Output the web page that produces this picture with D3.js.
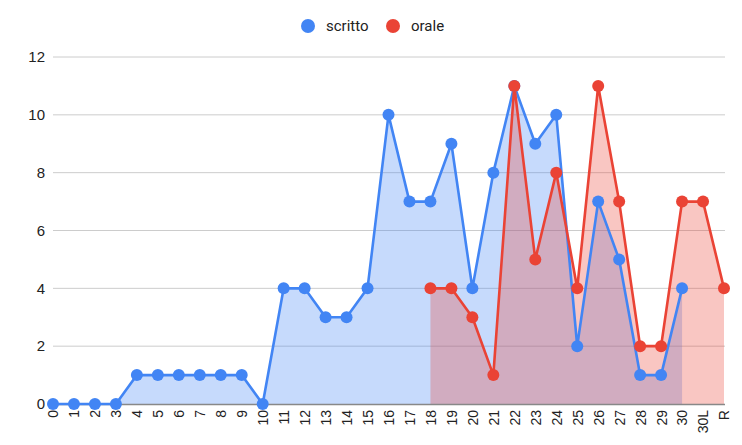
<!DOCTYPE html>
<html>
<head>
<meta charset="utf-8">
<script src="https://cdn.jsdelivr.net/npm/d3@7"></script>
<style>
  body { margin: 0; background: #fff; }
  svg { font-family: Roboto, Arial, sans-serif; }
</style>
</head>
<body>
<svg id="chart" width="742" height="445"></svg>
<script>
var categories = ["0","1","2","3","4","5","6","7","8","9","10","11","12","13","14","15",
  "16","17","18","19","20","21","22","23","24","25","26","27","28","29","30","30L","R"];
var scritto = [0,0,0,0,1,1,1,1,1,1,0,4,4,3,3,4,10,7,7,9,4,8,11,9,10,2,7,5,1,1,4,null,null];
var orale = [null,null,null,null,null,null,null,null,null,null,null,null,null,null,null,null,
  null,null,4,4,3,1,11,5,8,4,11,7,2,2,7,7,4];
var yTicks = [0,2,4,6,8,10,12];
var seriesNames = ["scritto","orale"];
var seriesColors = ["#4285f4","#ea4335"];

function drawChart() {
  var svg = d3.select("#chart");

  const left = 53, right = 724, top = 57, bottom = 404;
  const axisFont = "'Liberation Sans', Arial, sans-serif";

  const xScale = d3.scalePoint()
    .domain(categories)
    .range([left, right]);

  const yScale = d3.scaleLinear()
    .domain([0, 12])
    .range([bottom, top]);

  // gridlines
  svg.append("g")
    .selectAll("line")
    .data(yTicks.filter(d => d > 0))
    .enter().append("line")
    .attr("x1", left)
    .attr("x2", right + 1)
    .attr("y1", d => yScale(d))
    .attr("y2", d => yScale(d))
    .attr("stroke", "#cccccc")
    .attr("stroke-width", 1);

  // y axis labels
  var yAxis = d3.axisLeft(yScale).tickValues(yTicks).tickSize(0).tickPadding(8);
  var gy = svg.append("g").attr("transform", "translate(" + left + ",0)").call(yAxis);
  gy.select(".domain").remove();
  gy.selectAll("text").attr("font-size", 15).attr("fill", "#222").attr("font-family", axisFont);

  var series = [scritto, orale];

  var area = d3.area()
    .defined(d => d.v !== null)
    .x(d => xScale(d.c))
    .y0(bottom)
    .y1(d => yScale(d.v));

  var line = d3.line()
    .defined(d => d.v !== null)
    .x(d => xScale(d.c))
    .y(d => yScale(d.v));

  var data = series.map(s => s.map((v, i) => ({ c: categories[i], v: v })));

  // areas
  data.forEach(function(d, i) {
    svg.append("path")
      .attr("d", area(d))
      .attr("fill", seriesColors[i])
      .attr("fill-opacity", 0.3);
  });

  // baseline
  svg.append("line")
    .attr("x1", left).attr("x2", right + 1)
    .attr("y1", bottom + 0.5).attr("y2", bottom + 0.5)
    .attr("stroke", "#888").attr("stroke-width", 1.5);

  // lines
  data.forEach(function(d, i) {
    svg.append("path")
      .attr("d", line(d))
      .attr("fill", "none")
      .attr("stroke", seriesColors[i])
      .attr("stroke-width", 2.6)
      .attr("stroke-linejoin", "round");
  });

  // points
  data.forEach(function(d, i) {
    svg.append("g")
      .selectAll("circle")
      .data(d.filter(p => p.v !== null))
      .enter().append("circle")
      .attr("cx", p => xScale(p.c))
      .attr("cy", p => yScale(p.v))
      .attr("r", 6)
      .attr("fill", seriesColors[i]);
  });

  // x axis labels (rotated)
  var xAxis = d3.axisBottom(xScale).tickSize(0).tickPadding(0);
  var gx = svg.append("g").attr("transform", "translate(0," + (bottom + 6) + ")").call(xAxis);
  gx.select(".domain").remove();
  gx.selectAll("text")
    .attr("font-size", 14)
    .attr("fill", "#222")
    .attr("font-family", axisFont)
    .attr("transform", "rotate(-90)")
    .attr("x", 0)
    .attr("y", 0)
    .attr("dy", "0.35em")
    .style("text-anchor", "end");

  // legend
  var legendX = [308, 393];
  seriesNames.forEach(function(name, i) {
    svg.append("circle")
      .attr("cx", legendX[i])
      .attr("cy", 26)
      .attr("r", 7)
      .attr("fill", seriesColors[i]);
    svg.append("text")
      .attr("x", legendX[i] + 18)
      .attr("y", 26)
      .attr("dy", "0.35em")
      .attr("font-size", 15)
      .attr("fill", "#222")
      .text(name);
  });
}

drawChart();
</script>
</body>
</html>
